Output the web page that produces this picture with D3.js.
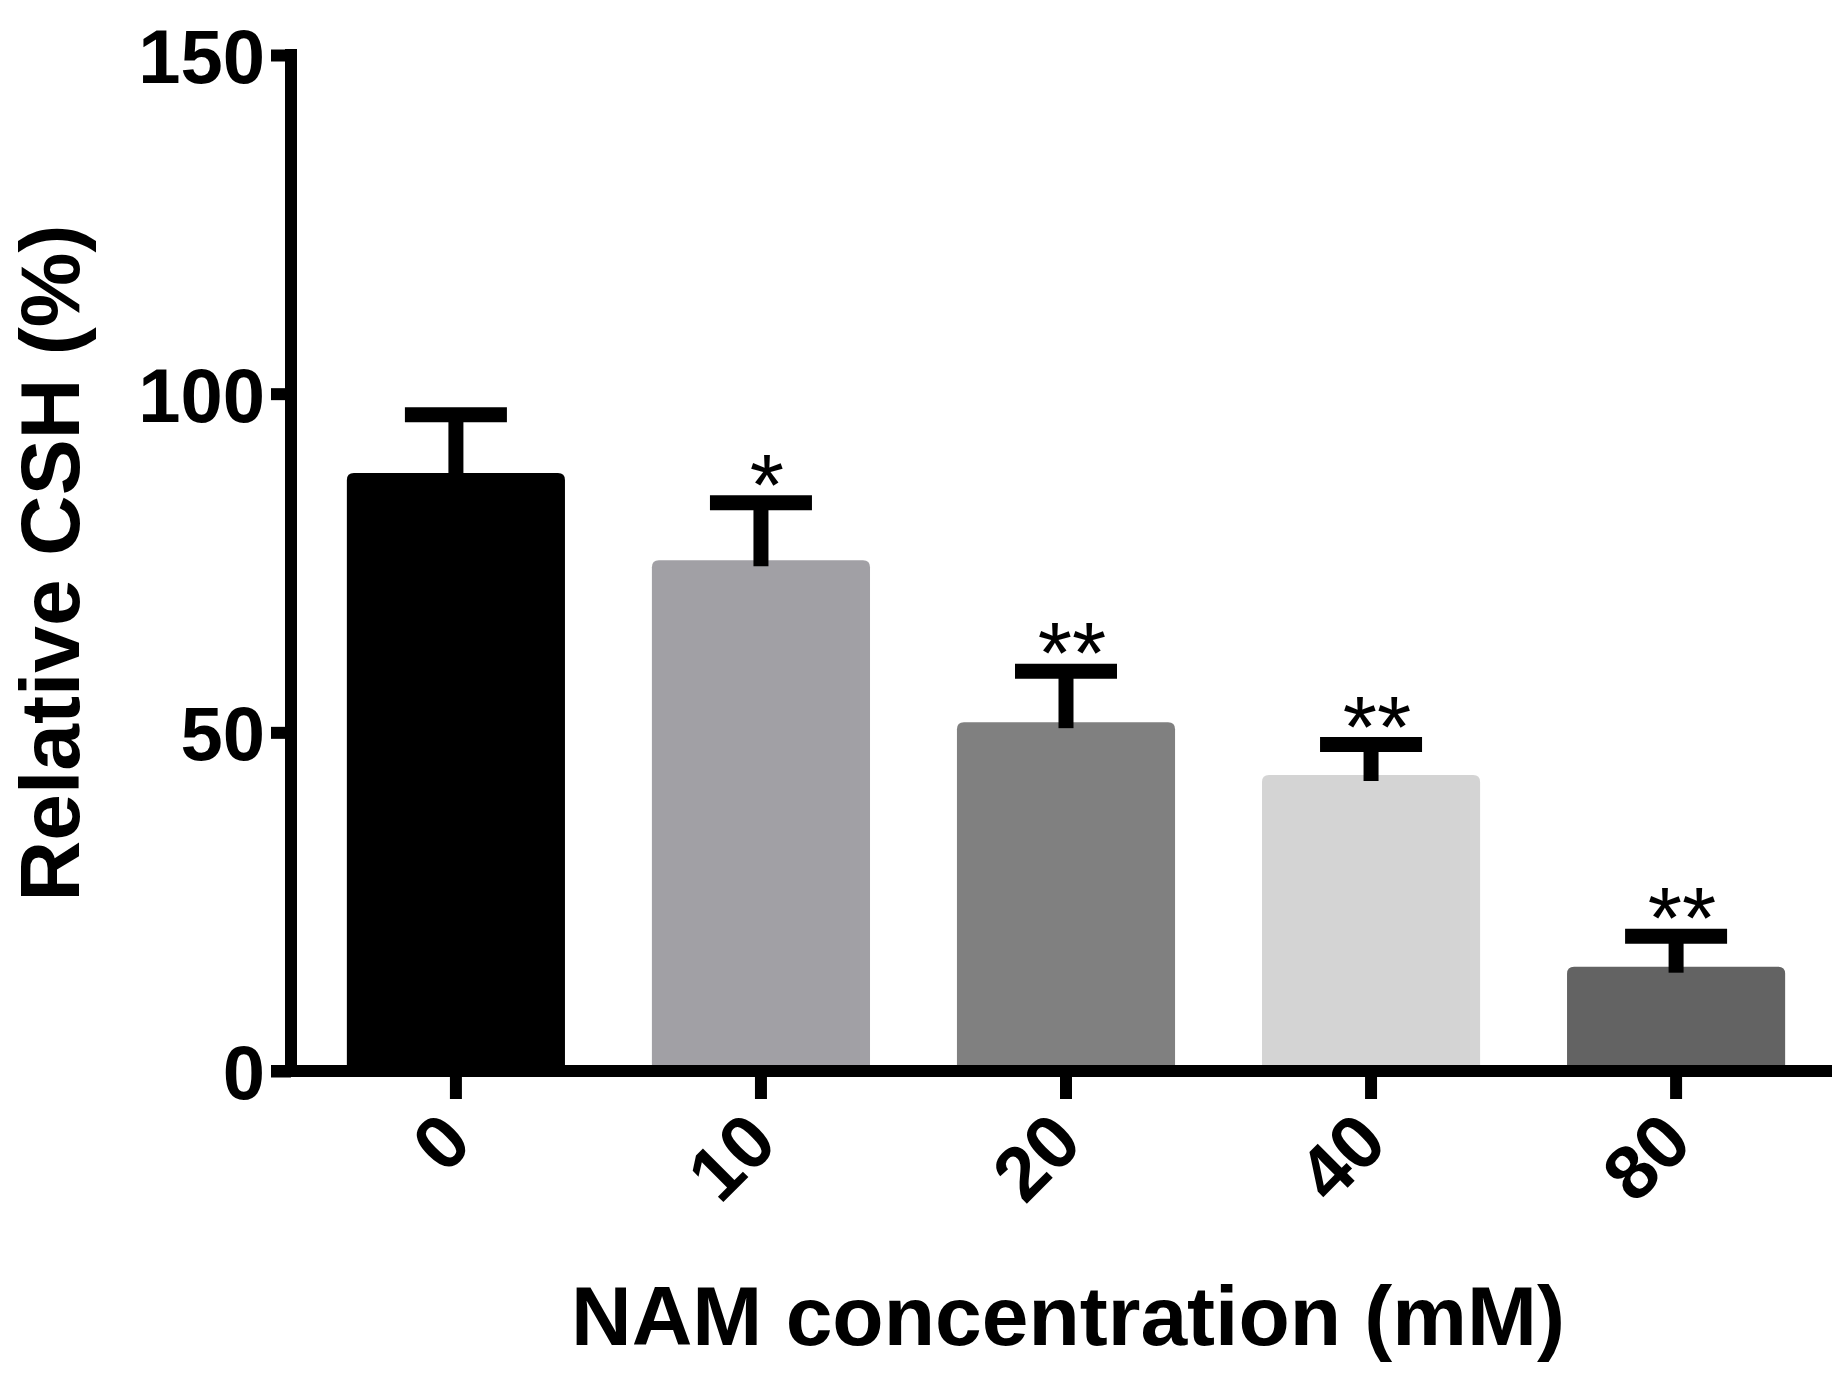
<!DOCTYPE html>
<html>
<head>
<meta charset="utf-8">
<script src="https://cdn.jsdelivr.net/npm/d3@7"></script>
<style>
  body { margin: 0; background: #fff; }
  text { font-family: "Liberation Sans", Arial, sans-serif; }
</style>
</head>
<body>
<div id="chart"></div>
<script>
const categories = ["0", "10", "20", "40", "80"];
const means = [88.3, 75.4, 51.5, 43.7, 15.4];
const errors = [8.6, 8.5, 7.5, 4.5, 4.5];
const stars = ["", "*", "**", "**", "**"];
const colors = ["#000000", "#a1a0a5", "#808080", "#d4d4d4", "#636363"];
const yTicks = [0, 50, 100, 150];

const w = 1841, h = 1380;
const axis = { left: 291, right: 1832, top: 55, bottom: 1071 };
const lw = 12;

const svg = d3.select("#chart").append("svg").attr("width", w).attr("height", h);

const x = d3.scaleBand().domain(categories).range([axis.left + 4, axis.right + 5]).paddingInner(0.285).paddingOuter(0.17);
const y = d3.scaleLinear().domain([0, 150]).range([axis.bottom, axis.top]);

// bar outline with only the top corners rounded
function barPath(x0, y0, bw, y1, r) {
  return `M${x0},${y1}V${y0 + r}Q${x0},${y0} ${x0 + r},${y0}H${x0 + bw - r}Q${x0 + bw},${y0} ${x0 + bw},${y0 + r}V${y1}Z`;
}

svg.selectAll("path.bar")
  .data(categories)
  .enter()
  .append("path")
  .attr("class", "bar")
  .attr("d", (d, i) => barPath(x(d), y(means[i]), x.bandwidth(), y(0), 7))
  .attr("fill", (d, i) => colors[i]);

// error bars
const cap = 102;
const err = svg.selectAll("g.err").data(categories).enter().append("g").attr("class", "err");
err.append("line")
  .attr("x1", (d) => x(d) + x.bandwidth() / 2)
  .attr("x2", (d) => x(d) + x.bandwidth() / 2)
  .attr("y1", (d, i) => y(means[i]) + 6)
  .attr("y2", (d, i) => y(means[i] + errors[i]))
  .attr("stroke", "#000")
  .attr("stroke-width", 15);
err.append("line")
  .attr("x1", (d) => x(d) + x.bandwidth() / 2 - cap / 2)
  .attr("x2", (d) => x(d) + x.bandwidth() / 2 + cap / 2)
  .attr("y1", (d, i) => y(means[i] + errors[i]))
  .attr("y2", (d, i) => y(means[i] + errors[i]))
  .attr("stroke", "#000")
  .attr("stroke-width", 15);

// significance stars
svg.selectAll("text.star")
  .data(categories)
  .enter()
  .append("text")
  .attr("class", "star")
  .attr("x", (d) => x(d) + x.bandwidth() / 2 + 6)
  .attr("y", (d, i) => y(means[i] + errors[i]) + 12)
  .attr("text-anchor", "middle")
  .attr("font-size", 88)
  .attr("fill", "#000")
  .text((d, i) => stars[i]);

// y axis
const yAxis = svg.append("g")
  .attr("transform", `translate(${axis.left},0)`)
  .call(d3.axisLeft(y).tickValues(yTicks).tickSize(24).tickPadding(2).tickSizeOuter(0));
yAxis.select(".domain").attr("stroke", "#000").attr("stroke-width", lw).attr("d", `M0,${axis.top - lw / 2}V${axis.bottom}`);
yAxis.selectAll(".tick line").attr("stroke", "#000").attr("stroke-width", lw).attr("x2", -20);
yAxis.selectAll(".tick text")
  .attr("font-size", 76)
  .attr("font-weight", "bold")
  .attr("fill", "#000")
  .attr("dy", "0.36em");

// x axis
const xAxis = svg.append("g")
  .attr("transform", `translate(0,${axis.bottom})`)
  .call(d3.axisBottom(x).tickSize(28).tickSizeOuter(0));
xAxis.select(".domain").attr("stroke", "#000").attr("stroke-width", lw).attr("d", `M${axis.left - 20},0H${axis.right}`);
xAxis.selectAll(".tick line").attr("stroke", "#000").attr("stroke-width", lw).attr("y1", 0);
xAxis.selectAll(".tick text")
  .attr("font-size", 76)
  .attr("font-weight", "bold")
  .attr("fill", "#000")
  .attr("text-anchor", "end")
  .attr("dy", "0.35em")
  .attr("transform", "translate(0,56) rotate(-45)")
  .attr("y", 0)
  .attr("x", 0);

// axis titles
svg.append("text")
  .attr("transform", `translate(79,563) rotate(-90)`)
  .attr("text-anchor", "middle")
  .attr("font-size", 84)
  .attr("font-weight", "bold")
  .text("Relative CSH (%)");

svg.append("text")
  .attr("x", 1068)
  .attr("y", 1345)
  .attr("text-anchor", "middle")
  .attr("font-size", 84)
  .attr("font-weight", "bold")
  .text("NAM concentration (mM)");
</script>
</body>
</html>
